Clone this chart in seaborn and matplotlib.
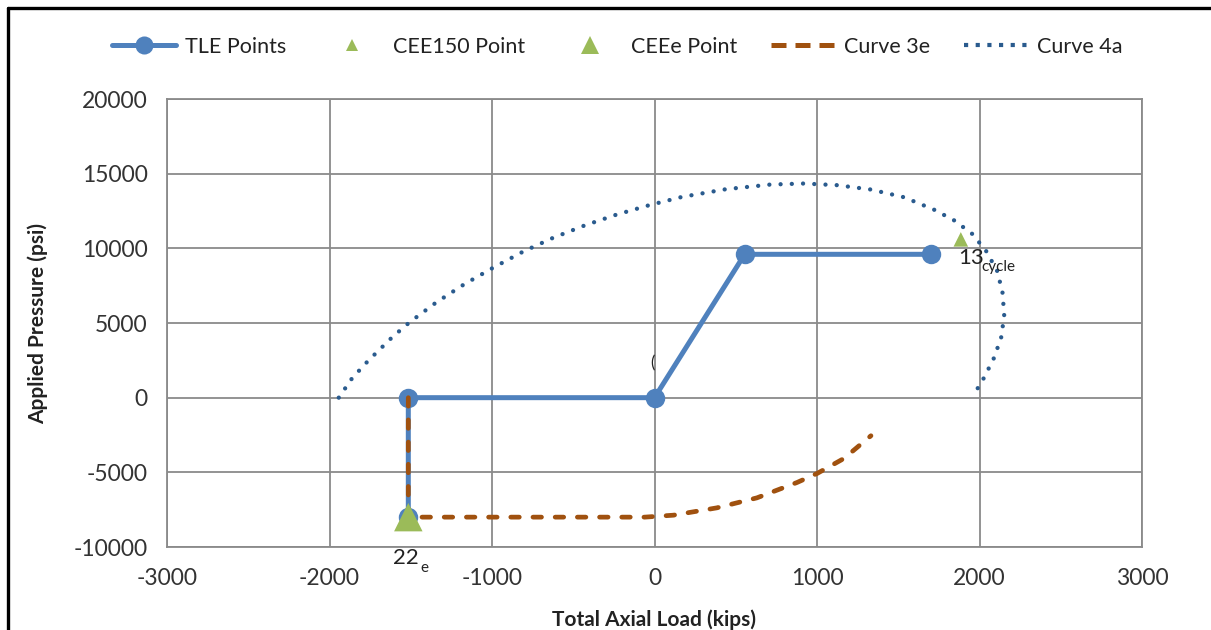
import matplotlib
matplotlib.use("Agg")
import matplotlib.pyplot as plt
from matplotlib.lines import Line2D
import seaborn as sns
import pandas as pd

# ---------------- data ----------------
tle_x = [-1515, -1515, 0, 555, 1700]
tle_y = [-8000, 0, 0, 9600, 9600]

cee150_x = [1885]
cee150_y = [10600]

ceee_x = [-1515]
ceee_y = [-8000]

curve3e_x = [-1515, -1515, -1000, -500, -60, 116, 383, 630, 877, 1000, 1166, 1332]
curve3e_y = [0, -8000, -8000, -8000, -8000, -7870, -7380, -6710, -5680, -5080, -4070, -2550]

curve4a_x = [-1943, -1861, -1763, -1614, -1507, -1343, -1170, -990, -805, -625, -428,
             -233, -32, 168, 440, 712, 918, 1124, 1330, 1536, 1722, 1846, 1956, 2042,
             2108, 2141, 2152, 2135, 2090, 2028, 1954]
curve4a_y = [0, 1300, 2460, 4050, 5050, 6380, 7600, 8720, 9800, 10700, 11540,
             12260, 12890, 13440, 13960, 14270, 14340, 14230, 13940, 13420, 12580, 11860, 10960, 9800,
             8500, 7100, 5550, 4090, 2680, 1340, 0]

x_ticks = [-3000, -2000, -1000, 0, 1000, 2000, 3000]
y_ticks = [-10000, -5000, 0, 5000, 10000, 15000, 20000]
legend_labels = ["TLE Points", "CEE150 Point", "CEEe Point", "Curve 3e", "Curve 4a"]

# ---------------- style ----------------
sns.set_style("white")
plt.rcParams['font.family'] = ['Lato', 'DejaVu Sans']

C_TLE = '#4F81BD'
C_GREEN = '#9BBB59'
C_3E = '#A0510F'
C_4A = '#2A5B8E'
C_GRID = '#8A8A8A'
C_TXT = '#333333'

W, H = 1211, 630
fig = plt.figure(figsize=(W / 100, H / 100), dpi=100)
ax = fig.add_axes([167 / W, 1 - 547 / H, (1142 - 167) / W, (547 - 99) / H])

df_tle = pd.DataFrame({"x": tle_x, "y": tle_y})
df_3e = pd.DataFrame({"x": curve3e_x, "y": curve3e_y})
df_4a = pd.DataFrame({"x": curve4a_x, "y": curve4a_y})

sns.lineplot(data=df_tle, x="x", y="y", sort=False, estimator=None, ax=ax,
             color=C_TLE, lw=3.6, marker='o', markersize=14, markeredgewidth=0,
             zorder=3, legend=False)
sns.lineplot(data=df_3e, x="x", y="y", sort=False, estimator=None, ax=ax,
             color=C_3E, lw=3.4, zorder=4, legend=False,
             dashes=False)
ax.lines[-1].set_linestyle((0, (1.8, 2.9)))
ax.lines[-1].set_dash_capstyle('round')
sns.lineplot(data=df_4a, x="x", y="y", sort=False, estimator=None, ax=ax,
             color=C_4A, lw=3.1, zorder=4, legend=False, dashes=False)
ax.lines[-1].set_linestyle((0, (0.01, 2.6)))
ax.lines[-1].set_dash_capstyle('round')

sns.scatterplot(x=cee150_x, y=cee150_y, ax=ax, marker='^', s=110, color=C_GREEN,
                edgecolor='none', zorder=6, legend=False)
sns.scatterplot(x=ceee_x, y=ceee_y, ax=ax, marker='^', s=420, color=C_GREEN,
                edgecolor='none', zorder=6, legend=False, clip_on=False)

ax.set_xlim(-3000, 3000)
ax.set_ylim(-10000, 20000)
ax.set_xticks(x_ticks)
ax.set_yticks(y_ticks)
ax.set_xticklabels([str(v) for v in x_ticks])
ax.set_yticklabels([str(v) for v in y_ticks])
ax.grid(True, color=C_GRID, lw=1.3)
ax.set_axisbelow(True)
for sp in ax.spines.values():
    sp.set_color(C_GRID)
    sp.set_linewidth(1.3)
ax.tick_params(axis='both', length=0, labelsize=16.5, colors=C_TXT)
ax.tick_params(axis='y', pad=14)
ax.tick_params(axis='x', pad=15)

ax.set_xlabel("Total Axial Load (kips)", fontsize=15, fontweight='bold', color='#222222')
ax.set_ylabel("Applied Pressure (psi)", fontsize=15, fontweight='bold', color='#222222')
ax.xaxis.set_label_coords(0.5, -0.14)
ax.yaxis.set_label_coords(-0.122, 0.5)

# annotations
ax.text(1868, 9350, "13", fontsize=16, color='#222222', ha='left', va='center', zorder=7)
ax.text(2012, 8750, "cycle", fontsize=11, color='#222222', ha='left', va='center', zorder=7)
ax.text(-1610, -10750, "22", fontsize=16, color='#222222', ha='left', va='center', clip_on=False)
ax.text(-1440, -11400, "e", fontsize=11, color='#222222', ha='left', va='center', clip_on=False)
ax.text(-15, 2300, "(", fontsize=12, color='#222222', ha='center', va='center')

# legend
handles = [
    Line2D([], [], color=C_TLE, lw=3.6, marker='o', markersize=13, markeredgewidth=0),
    Line2D([], [], color=C_GREEN, lw=0, marker='^', markersize=8, markeredgewidth=0),
    Line2D([], [], color=C_GREEN, lw=0, marker='^', markersize=13, markeredgewidth=0),
    Line2D([], [], color=C_3E, lw=3.6, linestyle=(0, (3.0, 1.8))),
    Line2D([], [], color=C_4A, lw=3.0, linestyle=(0, (1.0, 1.8))),
]
fig.legend(handles, legend_labels, loc='center', bbox_to_anchor=(617 / W, 1 - 47 / H),
           ncol=5, frameon=False, fontsize=15.5, handlelength=3.0, handletextpad=0.4,
           columnspacing=1.55, labelcolor='#222222')

# outer border (left and top)
fig.add_artist(Line2D([8 / W, 8 / W], [0, 1 - 8 / H], transform=fig.transFigure, color='black', lw=2.4))
fig.add_artist(Line2D([8 / W, 1], [1 - 8 / H, 1 - 8 / H], transform=fig.transFigure, color='black', lw=2.4))

fig.savefig("out.png", dpi=100)
